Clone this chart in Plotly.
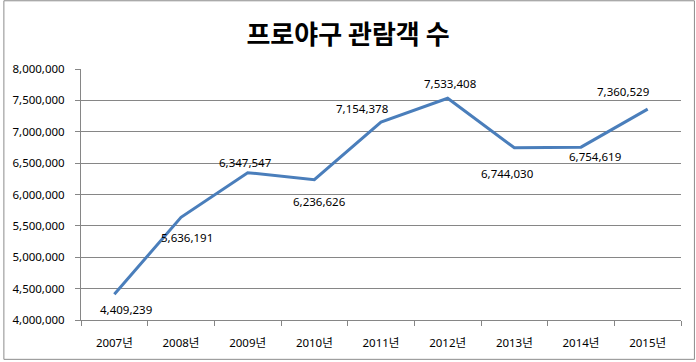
import plotly.graph_objects as go

years = ["2007년", "2008년", "2009년", "2010년", "2011년", "2012년", "2013년", "2014년", "2015년"]
visitors = [4409239, 5636191, 6347547, 6236626, 7154378, 7533408, 6744030, 6754619, 7360529]
label_dx = [12, 6, -2, 5, -19, 2, -7, 14, -25]
label_dy = [-15, -20, 10, -22, 14, 15, -26, -9, 18]

W, H = 696, 362
L, R, T, B = 78, 15, 69, 41
pw, ph = W - L - R, H - T - B
grid = "#868686"
font_fam = "Noto Sans, Noto Sans CJK KR, sans-serif"
fs = 11.5

fig = go.Figure()
fig.add_trace(go.Scatter(x=years, y=visitors, mode="lines",
                         line=dict(color="#4A7EBB", width=3), hoverinfo="x+y"))

for x, v, dx, dy in zip(years, visitors, label_dx, label_dy):
    fig.add_annotation(x=x, y=v, text=f"{v:,}", showarrow=False,
                       xshift=dx, yshift=dy,
                       font=dict(family=font_fam, size=fs, color="#000000"))

fig.add_shape(type="rect", xref="paper", yref="paper",
              x0=(0.5 - L) / pw, x1=(W - 1.5 - L) / pw,
              y0=(T + ph - (H - 1.5)) / ph, y1=(T + ph - 0.5) / ph,
              line=dict(color="#8C8C8C", width=1), fillcolor="rgba(0,0,0,0)", layer="below")

fig.update_layout(
    width=W, height=H,
    margin=dict(l=L, r=R, t=T, b=B),
    paper_bgcolor="white", plot_bgcolor="white",
    showlegend=False,
    title=dict(text="<b>프로야구 관람객 수</b>", x=0.5, xanchor="center",
               y=1 - 35 / H, yanchor="middle", yref="container",
               font=dict(family="Noto Sans CJK KR, sans-serif", size=26, color="#000000")),
    font=dict(family=font_fam, size=fs, color="#000000"),
)
fig.update_xaxes(type="category", range=[-0.5, 8.5], showgrid=False,
                 showline=True, linecolor=grid, linewidth=1,
                 ticks="outside", tickson="boundaries", ticklen=5, tickcolor=grid,
                 ticklabelstandoff=12,
                 tickfont=dict(family=font_fam, size=fs, color="#000000"))
fig.update_yaxes(range=[4000000, 8000000], dtick=500000, tickformat=",",
                 showgrid=True, gridcolor=grid, gridwidth=1,
                 showline=True, linecolor=grid, linewidth=1,
                 ticks="outside", ticklen=5, tickcolor=grid, zeroline=False,
                 ticklabelstandoff=8,
                 tickfont=dict(family=font_fam, size=fs, color="#000000"))

fig.write_html("out.html", config={"displayModeBar": False},
               post_script="document.body.style.margin='0';")
